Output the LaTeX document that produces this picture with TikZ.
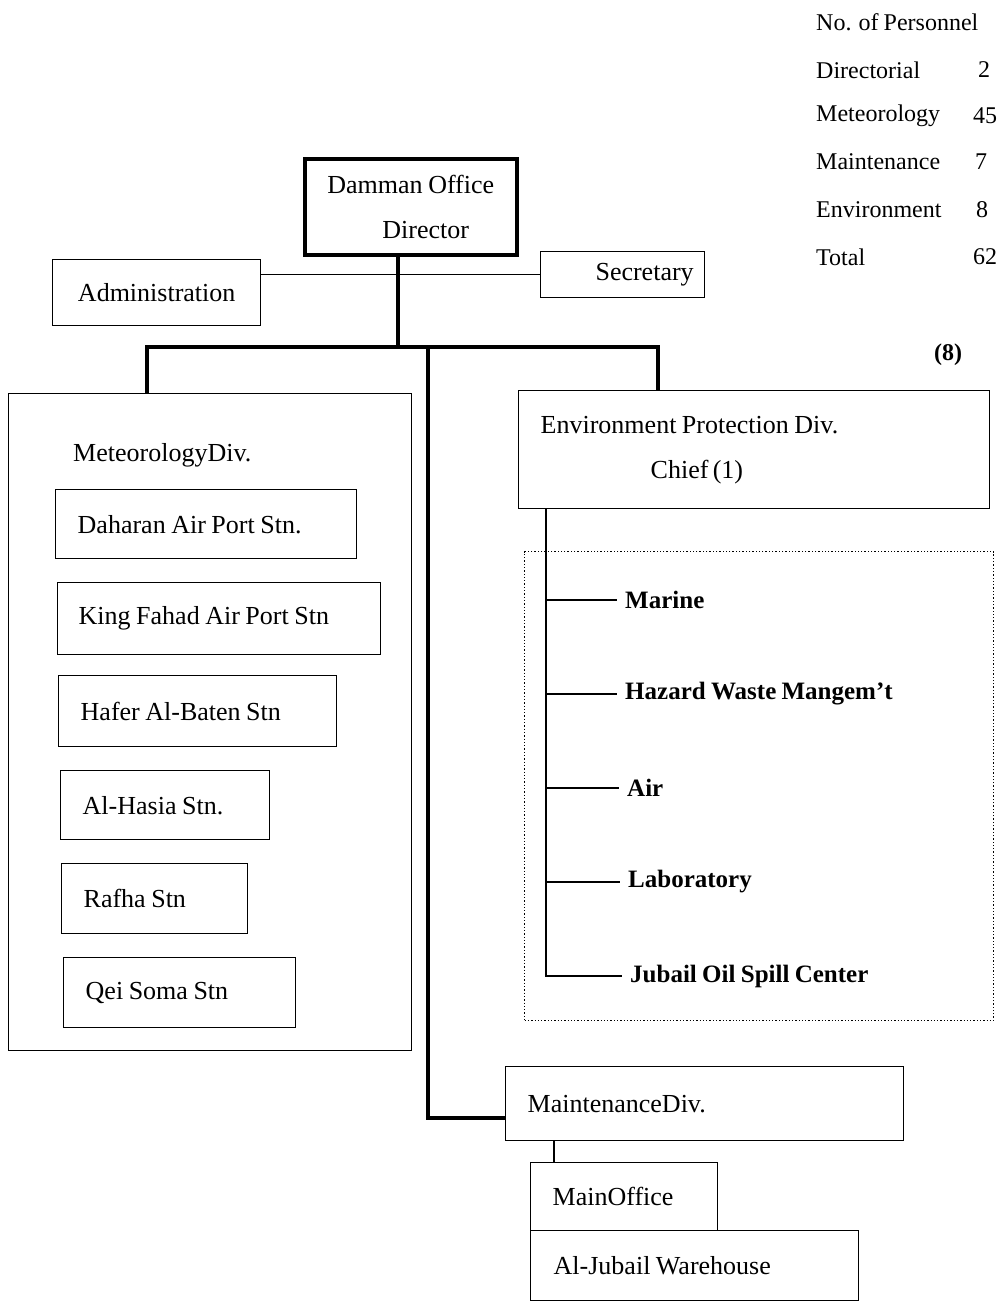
\documentclass[tikz,border=0pt]{standalone}
\usepackage{fontspec}
\setmainfont{Liberation Serif}[WordSpace=0.85]
\begin{document}
\begin{tikzpicture}[x=1pt,y=-1pt,
  box/.style={draw,line width=1.4pt,inner ysep=0pt,anchor=north west,font=\fontsize{26}{45}\selectfont},
  lbox/.style={box,align=flush left},
  heavy/.style={line width=3.6pt,line join=miter},
  thinln/.style={line width=1.4pt},
  spine/.style={line width=2.4pt},
  sub/.style={anchor=west,inner xsep=8pt,font=\fontsize{25}{30}\selectfont\bfseries},
  tab/.style={anchor=west,inner sep=0pt,font=\fontsize{24}{28}\selectfont},
  num/.style={inner sep=0pt,font=\fontsize{24}{28}\selectfont}]
\useasboundingbox (0,0) rectangle (1005,1301);

% personnel table
\node[tab] (t0) at (816,22) {No. of Personnel};
\node[tab] (t1) at (816,70) {Directorial};   \node[num] (n1) at (984,70) {2};
\node[tab] (t2) at (816,116) {Meteorology};  \node[num] (n2) at (985,116) {45};
\node[tab] (t3) at (816,162) {Maintenance};  \node[num] (n3) at (981,162) {7};
\node[tab] (t4) at (816,210) {Environment};  \node[num] (n4) at (982,210) {8};
\node[tab] (t5) at (816,257) {Total};        \node[num] (n5) at (985,257) {62};
\node[num,font=\fontsize{24}{28}\selectfont\bfseries] (n8) at (948,355) {(8)};

% top
\node[box,line width=3.6pt,minimum width=212pt,minimum height=96pt,align=left] (dir) at (303,157)
  {Damman Office\\\hspace*{55pt}Director};
\node[box,minimum width=208pt,minimum height=66pt] (adm) at (52,259) {Administration};
\node[box,minimum height=46pt,text width=142pt,inner xsep=11pt,align=flush right] (sec) at (540,251) {Secretary};
\draw[thinln] (adm.east |- sec.west) -- (sec.west);

% meteorology division
\node[box,minimum width=403pt,minimum height=657pt] (met) at (8,393) {};
\node[anchor=west,inner sep=0pt,font=\fontsize{26}{30}\selectfont] (metl) at (73,455) {MeteorologyDiv.};
\node[lbox,minimum height=69pt,text width=257pt,inner xsep=22pt] (s1) at (55,489) {Daharan Air Port Stn.};
\node[lbox,minimum height=72pt,text width=281pt,inner xsep=21pt] (s2) at (57,582) {King Fahad Air Port Stn};
\node[lbox,minimum height=71pt,text width=234pt,inner xsep=22pt] (s3) at (58,675) {Hafer Al-Baten Stn};
\node[lbox,minimum height=69pt,text width=165pt,inner xsep=22pt] (s4) at (60,770) {Al-Hasia Stn.};
\node[lbox,minimum height=70pt,text width=142pt,inner xsep=22pt] (s5) at (61,863) {Rafha Stn};
\node[lbox,minimum height=70pt,text width=188pt,inner xsep=22pt] (s6) at (63,957) {Qei Soma Stn};

% environment division
\node[lbox,minimum height=118pt,text width=427pt,inner xsep=22pt] (env) at (518,390)
  {Environment Protection Div.\\\hspace*{110pt}Chief\,(1)};
\node[draw,dotted,line width=1.3pt,anchor=north west,minimum width=469pt,minimum height=469pt] (grp) at (524,551) {};
\node[sub] (e1) at (617,600) {Marine};
\node[sub] (e2) at (617,694) {Hazard Waste Mangem't};
\node[sub] (e3) at (619,788) {Air};
\node[sub] (e4) at (620,882) {Laboratory};
\node[sub] (e5) at (622,976) {Jubail Oil Spill Center};
\coordinate (sp) at (546,976);
\draw[spine] (env.south -| sp) -- (sp) -- (e5.west);
\draw[thinln] (sp |- e1.west) -- (e1.west);
\draw[thinln] (sp |- e2.west) -- (e2.west);
\draw[thinln] (sp |- e3.west) -- (e3.west);
\draw[thinln] (sp |- e4.west) -- (e4.west);

% maintenance division
\node[lbox,minimum height=74pt,text width=354pt,inner xsep=22pt] (mnt) at (505,1066) {MaintenanceDiv.};
\node[lbox,minimum height=68pt,text width=143pt,inner xsep=22pt] (mo) at (530,1162) {MainOffice};
\node[lbox,minimum height=70pt,text width=282pt,inner xsep=23pt] (wh) at (530,1230) {Al-Jubail Warehouse};
\coordinate (mx) at (554,1150);
\draw[thinln] (mnt.south -| mx) -- (mo.north -| mx);

% bus
\coordinate (b0) at (398,347);
\coordinate (bl) at (147,347);
\coordinate (br) at (658,347);
\coordinate (bc) at (428,347);
\draw[heavy] (dir.south -| b0) -- (b0);
\draw[heavy] (met.north -| bl) -- (bl) -- (br) -- (env.north -| br);
\draw[heavy] (bc) |- ([yshift=-14pt]mnt.west);
\end{tikzpicture}
\end{document}
